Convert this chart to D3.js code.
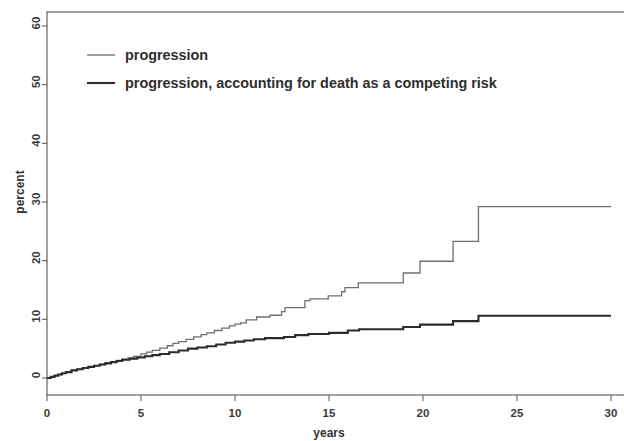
<!DOCTYPE html>
<html lang="en">
<head>
  <meta charset="UTF-8" />
  <title>Cumulative incidence of progression</title>
  <script src="https://d3js.org/d3.v7.min.js"></script>
  <style>
    body {
      margin: 0;
      background: #fff;
      font-family: 'Liberation Sans', Arial, sans-serif;
    }
    .tick-label {
      font-size: 11.5px;
      font-weight: bold;
      fill: #3a3a3a;
    }
    .axis-title {
      font-size: 12px;
      font-weight: bold;
      fill: #333;
    }
    .legend-label {
      font-size: 14.4px;
      font-weight: bold;
      fill: #2e2e2e;
    }
  </style>
</head>
<body>
  <svg id="chart" width="624" height="441"></svg>

  <script>
    // Axis ticks
    const xTicks = [0, 5, 10, 15, 20, 25, 30];
    const yTicks = [0, 10, 20, 30, 40, 50, 60];

    // Progression (Kaplan-Meier style): year -> percent
    const progYears = [0, 0.2, 0.4, 0.6, 0.8, 1.0, 1.3, 1.6, 1.9, 2.2, 2.5, 2.8, 3.1, 3.4, 3.7,
      4.0, 4.3, 4.6, 5.0, 5.3, 5.6, 6.0, 6.4, 6.7, 7.0, 7.4, 7.8, 8.2, 8.5, 8.9, 9.3, 9.7,
      10.0, 10.3, 10.6, 11.15, 11.86, 12.48, 12.66, 13.72, 13.99, 14.96, 15.67, 15.85,
      16.56, 18.95, 19.84, 21.6, 22.95];
    const progValues = [0, 0.2, 0.4, 0.6, 0.8, 1.0, 1.3, 1.5, 1.7, 1.9, 2.1, 2.3, 2.6, 2.8, 3.0,
      3.2, 3.4, 3.7, 4.1, 4.4, 4.7, 5.1, 5.5, 5.9, 6.2, 6.6, 7.0, 7.4, 7.7, 8.1, 8.5, 8.9,
      9.2, 9.4, 9.9, 10.4, 10.7, 11.3, 12.0, 13.2, 13.5, 14.0, 14.7, 15.4,
      16.2, 17.9, 19.9, 23.3, 29.2];

    // Progression, accounting for death as a competing risk
    const compYears = [0, 0.2, 0.4, 0.6, 0.8, 1.0, 1.3, 1.6, 1.9, 2.2, 2.5, 2.8, 3.1, 3.4, 3.7,
      4.0, 4.4, 4.8, 5.2, 5.6, 6.0, 6.5, 7.0, 7.5, 8.0, 8.5, 9.0, 9.5, 10.0, 10.5, 11.0,
      11.6, 12.6, 13.2, 13.9, 15.0, 16.0, 16.6, 18.95, 19.84, 21.6, 22.95];
    const compValues = [0, 0.2, 0.4, 0.6, 0.8, 1.0, 1.3, 1.5, 1.7, 1.9, 2.1, 2.3, 2.5, 2.7, 2.9,
      3.1, 3.3, 3.5, 3.7, 3.9, 4.1, 4.4, 4.7, 5.0, 5.2, 5.4, 5.7, 6.0, 6.2, 6.4, 6.6,
      6.8, 7.0, 7.3, 7.5, 7.7, 8.1, 8.3, 8.7, 9.1, 9.7, 10.6];

    const followUpEnd = 30;

    const legendItems = [
      { label: "progression", color: "#6e6e6e", width: 1.3 },
      { label: "progression, accounting for death as a competing risk", color: "#2b2b2b", width: 2.1 }
    ];

    const svg = d3.select("#chart");

    // plot box edges (right edge is cut off in the original)
    const box = { left: 47, top: 12, right: 630, bottom: 395 };

    const x = d3.scaleLinear().domain([0, 30]).range([47, 611]);
    const y = d3.scaleLinear().domain([0, 60]).range([378, 26]);

    // box
    svg.append("rect")
      .attr("x", box.left)
      .attr("y", box.top)
      .attr("width", box.right - box.left)
      .attr("height", box.bottom - box.top)
      .attr("fill", "none")
      .attr("stroke", "#555")
      .attr("stroke-width", 1.1);

    // x ticks
    const xg = svg.append("g");
    xg.selectAll("line")
      .data(xTicks)
      .join("line")
      .attr("x1", d => x(d)).attr("x2", d => x(d))
      .attr("y1", box.bottom).attr("y2", box.bottom + 6)
      .attr("stroke", "#555");
    xg.selectAll("text")
      .data(xTicks)
      .join("text")
      .attr("class", "tick-label")
      .attr("x", d => x(d))
      .attr("y", 417)
      .attr("text-anchor", "middle")
      .text(d => d);

    // y ticks (labels rotated like base R)
    const yg = svg.append("g");
    yg.selectAll("line")
      .data(yTicks)
      .join("line")
      .attr("x1", box.left - 5).attr("x2", box.left)
      .attr("y1", d => y(d)).attr("y2", d => y(d))
      .attr("stroke", "#555");
    yg.selectAll("text")
      .data(yTicks)
      .join("text")
      .attr("class", "tick-label")
      .attr("transform", d => `translate(39.5,${y(d) - 3}) rotate(-90)`)
      .attr("text-anchor", "middle")
      .text(d => d);

    // axis titles
    svg.append("text")
      .attr("class", "axis-title")
      .attr("x", x(15))
      .attr("y", 437)
      .attr("text-anchor", "middle")
      .text("years");

    svg.append("text")
      .attr("class", "axis-title")
      .attr("transform", "translate(24,192) rotate(-90)")
      .attr("text-anchor", "middle")
      .text("percent");

    // step curves
    const stepLine = d3.line()
      .x(d => x(d[0]))
      .y(d => y(d[1]))
      .curve(d3.curveStepAfter);

    function series(years, values) {
      const pts = years.map((t, i) => [t, values[i]]);
      pts.push([followUpEnd, values[values.length - 1]]);
      return pts;
    }

    svg.append("path")
      .attr("d", stepLine(series(progYears, progValues)))
      .attr("fill", "none")
      .attr("stroke", legendItems[0].color)
      .attr("stroke-width", legendItems[0].width);

    svg.append("path")
      .attr("d", stepLine(series(compYears, compValues)))
      .attr("fill", "none")
      .attr("stroke", legendItems[1].color)
      .attr("stroke-width", legendItems[1].width);

    // legend
    const lg = svg.append("g")
      .selectAll("g")
      .data(legendItems)
      .join("g")
      .attr("transform", (d, i) => `translate(87,${55 + i * 28})`);

    lg.append("line")
      .attr("x1", 0).attr("x2", 28)
      .attr("stroke", d => d.color)
      .attr("stroke-width", d => d.width);

    lg.append("text")
      .attr("class", "legend-label")
      .attr("x", 38)
      .attr("y", 5)
      .text(d => d.label);
  </script>
</body>
</html>
